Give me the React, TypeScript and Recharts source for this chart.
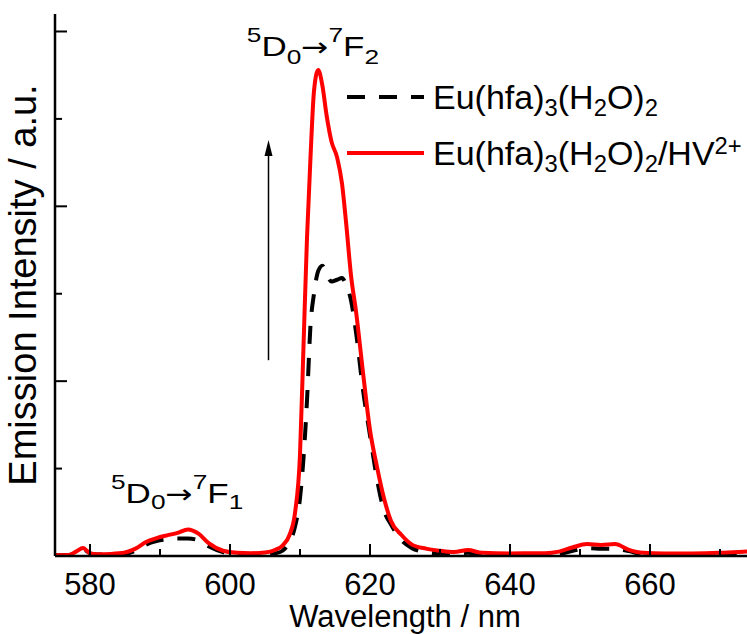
import React from 'react';
import { LineChart, Line, XAxis, YAxis, Legend, ReferenceLine, ReferenceDot } from 'recharts';

// emission spectra (intensity in arbitrary units, 1 unit = one major y tick)
const wavelength = [
  575, 577, 578, 579, 580, 581, 583, 585, 586.5, 588, 589.5, 591, 592.5, 594, 595.5, 597, 599, 601, 603, 605,
  606.5, 607.5, 608.5, 609.3, 610, 610.5, 611, 611.5, 612, 612.6, 613.2, 613.8, 614.5, 615.3, 616, 616.6, 617.3,
  618, 619, 620, 621, 622, 623, 624.5, 626, 628, 630, 632, 634, 636, 640, 645, 647, 649, 651, 653, 655, 657, 659,
  662, 666, 670, 674, 675,
];
const euHfa = [
  0.005, 0.006, 0.02, 0.04, 0.015, 0.008, 0.008, 0.012, 0.03, 0.065, 0.085, 0.095, 0.1, 0.1, 0.09, 0.055, 0.022,
  0.01, 0.008, 0.008, 0.015, 0.03, 0.08, 0.17, 0.33, 0.56, 0.89, 1.32, 1.5, 1.63, 1.66, 1.61, 1.57, 1.58, 1.59,
  1.55, 1.46, 1.28, 0.95, 0.69, 0.44, 0.26, 0.18, 0.09, 0.045, 0.022, 0.015, 0.013, 0.018, 0.01, 0.008, 0.008,
  0.012, 0.03, 0.045, 0.042, 0.04, 0.028, 0.01, 0.008, 0.008, 0.01, 0.015, 0.016,
];
const euHfaHv = [
  0.005, 0.006, 0.025, 0.046, 0.015, 0.01, 0.012, 0.02, 0.042, 0.08, 0.102, 0.118, 0.132, 0.152, 0.128, 0.072,
  0.03, 0.018, 0.016, 0.02, 0.036, 0.06, 0.12, 0.25, 0.58, 1.2, 1.82, 2.28, 2.66, 2.78, 2.69, 2.52, 2.37, 2.28,
  2.13, 1.9, 1.6, 1.4, 1.05, 0.72, 0.51, 0.33, 0.2, 0.12, 0.065, 0.042, 0.03, 0.023, 0.034, 0.018, 0.015, 0.016,
  0.025, 0.05, 0.068, 0.063, 0.068, 0.035, 0.018, 0.015, 0.015, 0.018, 0.026, 0.028,
];
const xTicks = [580, 590, 600, 610, 620, 630, 640, 650, 660, 670];
const yTicks = [0, 0.5, 1, 1.5, 2, 2.5, 3];

const data = wavelength.map((w, i) => ({ w, plain: euHfa[i], hv: euHfaHv[i] }));

const W = 760;
const H = 634;
const LEFT = 55;
const TOP = 14;
const BOTTOM = 556;
const RIGHT = 755;
const FONT = '"Liberation Sans", Arial, Helvetica, sans-serif';
const DASH = '18 14';

const BottomTick = ({ x, payload }: any) => {
  const major = payload.value % 20 === 0;
  return (
    <g>
      <line x1={x} x2={x} y1={BOTTOM} y2={BOTTOM - (major ? 12 : 7)} stroke="#000" strokeWidth={2} />
      {major && (
        <text x={x} y={BOTTOM + 39} textAnchor="middle" fontSize={31} fontFamily={FONT} fill="#000">
          {payload.value}
        </text>
      )}
    </g>
  );
};

const TopTick = ({ x, payload }: any) => {
  const major = payload.value % 20 === 0;
  return <line x1={x} x2={x} y1={TOP} y2={TOP + (major ? 12 : 7)} stroke="#000" strokeWidth={2} />;
};

const LeftTick = ({ y, payload }: any) => {
  const major = Number.isInteger(payload.value);
  return <line x1={LEFT} x2={LEFT + (major ? 12 : 7)} y1={y} y2={y} stroke="#000" strokeWidth={2} />;
};

const RightTick = ({ y, payload }: any) => {
  const major = Number.isInteger(payload.value);
  return <line x1={RIGHT} x2={RIGHT - (major ? 12 : 7)} y1={y} y2={y} stroke="#000" strokeWidth={2} />;
};

const Sub = ({ children }: any) => (
  <span style={{ fontSize: '0.7em', position: 'relative', top: '0.28em' }}>{children}</span>
);
const Sup = ({ children }: any) => (
  <span style={{ fontSize: '0.7em', position: 'relative', top: '-0.45em' }}>{children}</span>
);

const legendOrder = ['plain', 'hv'];
const legendNames: Record<string, React.ReactNode> = {
  plain: (
    <>
      Eu(hfa)<Sub>3</Sub>(H<Sub>2</Sub>O)<Sub>2</Sub>
    </>
  ),
  hv: (
    <>
      Eu(hfa)<Sub>3</Sub>(H<Sub>2</Sub>O)<Sub>2</Sub>/HV<Sup>2+</Sup>
    </>
  ),
};
const legendDash: Record<string, string | undefined> = { plain: DASH, hv: undefined };

const LegendContent = ({ payload }: any) => {
  const items = (payload || [])
    .slice()
    .sort((a: any, b: any) => legendOrder.indexOf(a.dataKey) - legendOrder.indexOf(b.dataKey));
  return (
    <div style={{ fontFamily: FONT, fontSize: 34, color: '#000' }}>
      {items.map((entry: any) => (
        <div key={entry.dataKey} style={{ display: 'flex', alignItems: 'center', height: 56 }}>
          <svg width={77} height={10}>
            <line x1={0} x2={77} y1={5} y2={5} stroke={entry.color} strokeWidth={4} strokeDasharray={legendDash[entry.dataKey]} />
          </svg>
          <span style={{ marginLeft: 9, whiteSpace: 'nowrap', lineHeight: 1 }}>{legendNames[entry.dataKey]}</span>
        </div>
      ))}
    </div>
  );
};

// transition labels are drawn a little wider than the font, as in the original figure
const transition = (final: string, subDrop: number) => (props: any) => {
  const { cx, cy } = props;
  return (
    <text transform={`translate(${cx},${cy}) scale(1.25,1)`} x={0} y={0} fontSize={28} fontFamily={FONT} fill="#000">
      <tspan fontSize={21} dy={-14}>5</tspan>
      <tspan dy={14}>D</tspan>
      <tspan fontSize={21} dy={subDrop}>0</tspan>
      <tspan dy={-subDrop} fontFamily='"DejaVu Sans", sans-serif' fontSize={26}>→</tspan>
      <tspan fontSize={21} dy={-14}>7</tspan>
      <tspan dy={14}>F</tspan>
      <tspan fontSize={21} dy={subDrop}>{final}</tspan>
    </text>
  );
};

const ArrowShape = (props: any) => {
  const { x1, y1, x2, y2 } = props;
  const top = Math.min(y1, y2);
  const bottom = Math.max(y1, y2);
  return (
    <g>
      <line x1={x1} x2={x2} y1={bottom} y2={top + 14} stroke="#000" strokeWidth={1.5} />
      <path d={`M${x1},${top} L${x1 - 4},${top + 16} L${x1 + 4},${top + 16} Z`} fill="#000" />
    </g>
  );
};

const YLabel = () => (
  <text
    x={36}
    y={(TOP + BOTTOM) / 2}
    transform={`rotate(-90, 36, ${(TOP + BOTTOM) / 2})`}
    textAnchor="middle"
    fontSize={38}
    fontFamily={FONT}
    fill="#000"
  >
    Emission Intensity / a.u.
  </text>
);

const XLabel = () => (
  <text x={(LEFT + RIGHT) / 2} y={627} textAnchor="middle" fontSize={31} fontFamily={FONT} fill="#000">
    Wavelength / nm
  </text>
);

export default function App() {
  return (
    <div style={{ position: 'absolute', left: 0, top: 0, width: 747, height: 634, overflow: 'hidden', background: '#fff' }}>
      <LineChart width={W} height={H} data={data} margin={{ top: TOP, right: W - RIGHT, bottom: 0, left: 0 }}>
        <XAxis
          dataKey="w"
          type="number"
          domain={[575, 675]}
          ticks={xTicks}
          interval={0}
          allowDataOverflow
          height={H - BOTTOM}
          tickSize={0}
          tickMargin={0}
          tick={<BottomTick />}
          axisLine={{ stroke: '#000', strokeWidth: 2.5 }}
          label={<XLabel />}
        />
        <XAxis
          xAxisId="top"
          orientation="top"
          type="number"
          domain={[575, 675]}
          ticks={xTicks}
          interval={0}
          allowDataOverflow
          height={0}
          tickSize={0}
          tickMargin={0}
          tick={<TopTick />}
          axisLine={{ stroke: '#000', strokeWidth: 2.5 }}
        />
        <YAxis
          type="number"
          domain={[0, 3.1]}
          ticks={yTicks}
          interval={0}
          allowDataOverflow
          width={LEFT}
          tickSize={0}
          tickMargin={0}
          tick={<LeftTick />}
          axisLine={{ stroke: '#000', strokeWidth: 2.5 }}
          label={<YLabel />}
        />
        <YAxis
          yAxisId="right"
          orientation="right"
          type="number"
          domain={[0, 3.1]}
          ticks={yTicks}
          interval={0}
          allowDataOverflow
          width={0}
          tickSize={0}
          tickMargin={0}
          tick={<RightTick />}
          axisLine={{ stroke: '#000', strokeWidth: 2.5 }}
        />
        <Legend
          layout="vertical"
          align="center"
          verticalAlign="middle"
          wrapperStyle={{ left: 347, top: 69, width: 'auto' }}
          content={<LegendContent />}
        />
        <Line
          type="monotone"
          dataKey="plain"
          stroke="#000"
          strokeWidth={4}
          strokeDasharray={DASH}
          dot={false}
          isAnimationActive={false}
        />
        <Line type="monotone" dataKey="hv" stroke="#ff0000" strokeWidth={4} dot={false} isAnimationActive={false} />
        <ReferenceLine segment={[{ x: 605.5, y: 1.12 }, { x: 605.5, y: 2.38 }]} shape={ArrowShape} />
        <ReferenceDot x={602.4} y={2.857} r={1} shape={transition('2', 8)} />
        <ReferenceDot x={583.0} y={0.303} r={1} shape={transition('1', 6)} />
      </LineChart>
    </div>
  );
}
